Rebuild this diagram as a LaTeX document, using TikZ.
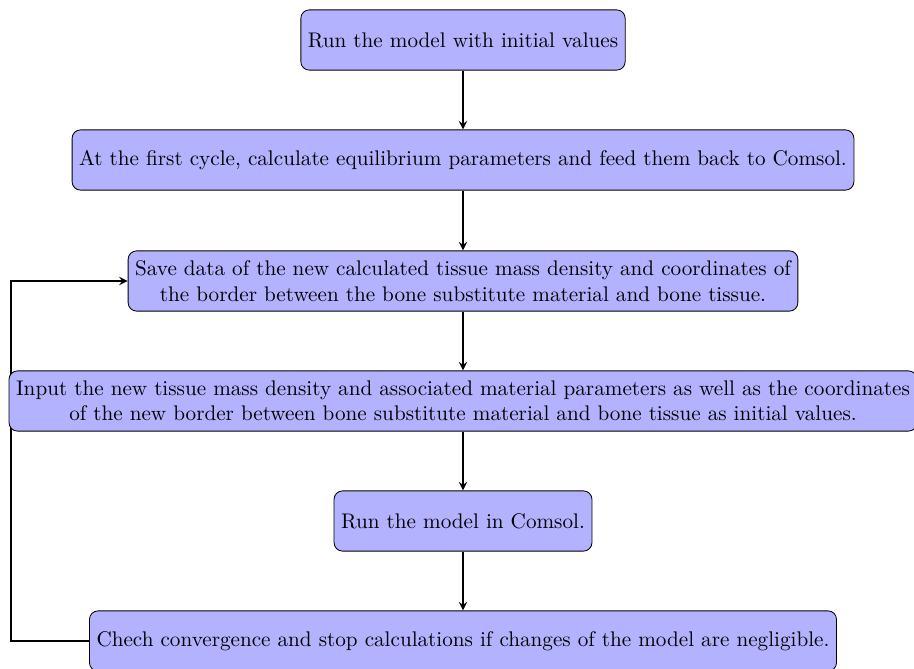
\documentclass[tikz,border=0pt]{standalone}
\usetikzlibrary{arrows,backgrounds}
\begin{document}
\begin{tikzpicture}[x=0.4725pt,y=-0.4725pt,
  process/.style={rectangle, rounded corners, minimum height=1cm, align=center, draw=black, fill=blue!30},
  arrow/.style={thick,->,>=stealth}]
\useasboundingbox (0,0) rectangle (914,668);
\node[process] (n1) at (463,40) {Run the model with initial values};
\node[process] (n2) at (463,160) {At the first cycle, calculate equilibrium parameters and feed them back to Comsol.};
\node[process] (n3) at (463,281) {Save data of the new calculated tissue mass density and coordinates of\\the border between the bone substitute material and bone tissue.};
\node[process] (n4) at (463,401) {Input the new tissue mass density and associated material parameters as well as the coordinates\\of the new border between bone substitute material and bone tissue as initial values.};
\node[process] (n5) at (463,521) {Run the model in Comsol.};
\node[process] (n6) at (463,641) {Chech convergence and stop calculations if changes of the model are negligible.};
\draw[arrow] (n1) -- (n2);
\draw[arrow] (n2) -- (n3);
\draw[arrow] (n3) -- (n4);
\draw[arrow] (n4) -- (n5);
\draw[arrow] (n5) -- (n6);
\coordinate (lb) at (11,641);
\coordinate (lt) at (11,281);
\begin{scope}[on background layer]
\draw[arrow] (n6.west) -- (lb) -- (lt) -- (n3.west);
\end{scope}
\end{tikzpicture}
\end{document}
